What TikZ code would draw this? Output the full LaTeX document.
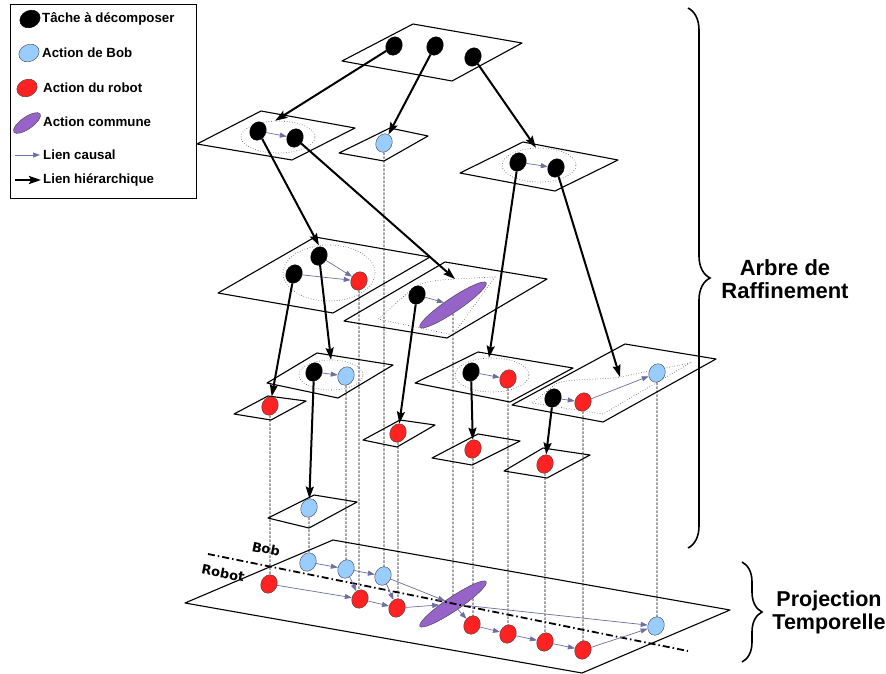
\documentclass[tikz,border=0pt]{standalone}
\usepackage{fontspec}
\setmainfont{Liberation Sans}
\newfontfamily\dejavu{DejaVu Sans}
\usetikzlibrary{shapes.geometric,arrows.meta,decorations.pathreplacing}
\definecolor{bobblue}{RGB}{153,204,255}
\definecolor{robotred}{RGB}{255,34,34}
\definecolor{jointpurple}{RGB}{150,100,200}
\definecolor{causalgray}{RGB}{110,110,160}
\pgfdeclarelayer{planeLayer}
\pgfdeclarelayer{projLayer}
\pgfsetlayers{planeLayer,projLayer,main}
\tikzstyle{taskNode}=[ellipse, draw=black, fill=black, thin, minimum width=16pt, minimum height=19pt, inner sep=0pt, rotate=-25]
\tikzstyle{bobNode}=[taskNode, fill=bobblue, draw=black!75]
\tikzstyle{robotNode}=[taskNode, fill=robotred, draw=black!75]
\tikzstyle{jointNode}=[ellipse, draw=black!75, thin, fill=jointpurple, minimum width=80pt, minimum height=14pt, inner sep=0pt, rotate=34]
\tikzstyle{legendSym}=[ellipse, draw=black!75, thin, minimum width=21pt, minimum height=17pt, inner sep=0pt, rotate=25]
\tikzstyle{legendText}=[anchor=west, inner sep=0pt, font=\fontsize{13.3}{15}\selectfont\bfseries]
\tikzstyle{taskPlane}=[draw, line width=1.1pt, fill=white, line join=round]
\tikzstyle{groupRing}=[ellipse, draw=black!70, dotted, line width=0.6pt, inner sep=0pt]
\tikzstyle{groupShape}=[draw=black!70, dotted, line width=0.6pt]
\tikzstyle{causalLink}=[-{Triangle[length=7pt,width=5pt]}, causalgray, line width=0.7pt]
\tikzstyle{hierLink}=[-{Stealth[length=12pt,width=8pt,inset=2pt]}, line width=2pt]
\tikzstyle{projLine}=[dash pattern=on 2.5pt off 1.5pt, line width=0.8pt]

\begin{document}
\begin{tikzpicture}[x=1pt,y=-1pt]
	\useasboundingbox (0,0) rectangle (886,673);

	\begin{pgfonlayer}{planeLayer}
	\draw[taskPlane] (342,61) -- (413,24) -- (522,43) -- (452,81) -- cycle;
	\draw[taskPlane] (197,144) -- (261,111) -- (355,128) -- (292,160) -- cycle;
	\draw[taskPlane] (339,153) -- (390,128) -- (428,136) -- (384,161) -- cycle;
	\draw[taskPlane] (460,173) -- (523,142) -- (618,160) -- (555,191) -- cycle;
	\draw[taskPlane] (218,293) -- (315,237) -- (430,257) -- (333,313) -- cycle;
	\draw[taskPlane] (344,321) -- (445,262) -- (547,279) -- (447,338) -- cycle;
	\draw[taskPlane] (415,383) -- (478,352) -- (573,368) -- (510,402) -- cycle;
	\draw[taskPlane] (512,405) -- (625,344) -- (716,359) -- (603,422) -- cycle;
	\draw[taskPlane] (267,383) -- (317,353) -- (393,365) -- (338,398) -- cycle;
	\draw[taskPlane] (234,414) -- (268,396) -- (306,401) -- (271,420) -- cycle;
	\draw[taskPlane] (363,440) -- (400,420) -- (435,425) -- (397,447) -- cycle;
	\draw[taskPlane] (432,458) -- (478,434) -- (520,441) -- (472,465) -- cycle;
	\draw[taskPlane] (504,471) -- (543,448) -- (590,455) -- (547,478) -- cycle;
	\draw[taskPlane] (268,518) -- (314,495) -- (357,502) -- (309,528) -- cycle;
	\draw[taskPlane] (185,603) -- (333,540) -- (730,610) -- (582,673) -- cycle;
	\end{pgfonlayer}

	\draw[thin] (10,4) rectangle (196,198);
	\node[legendSym, fill=black, draw=black] (legTask) at (30,19) {};
	\node[legendSym, fill=bobblue] (legBob) at (29,53) {};
	\node[legendSym, fill=robotred] (legRobot) at (27,88) {};
	\node[legendSym, fill=jointpurple, minimum width=32pt, minimum height=12pt, rotate=10] (legJoint) at (27,123) {};
	\node[legendText] (legTaskTxt) at (42,19) {Tâche à décomposer};
	\node[legendText] (legBobTxt) at (42,53) {Action de Bob};
	\node[legendText] (legRobotTxt) at (43,88) {Action du robot};
	\node[legendText] (legJointTxt) at (43,122) {Action commune};
	\node[legendText] (legCausalTxt) at (43,155) {Lien causal};
	\node[legendText] (legHierTxt) at (43,180) {Lien hiérarchique};
	\coordinate (legCausalA) at (15,155);
	\coordinate (legCausalB) at (40,155);
	\coordinate (legHierA) at (15,180);
	\coordinate (legHierB) at (41,180);
	\draw[causalLink] (legCausalA) -- (legCausalB);
	\draw[hierLink] (legHierA) -- (legHierB);

	\node[groupRing, minimum width=74pt, minimum height=32pt] (g1) at (278,137) {};
	\node[groupRing, minimum width=74pt, minimum height=34pt] (g2) at (539,165) {};
	\node[groupRing, minimum width=92pt, minimum height=56pt] (g3) at (329,273) {};
	\node[groupRing, minimum width=74pt, minimum height=34pt] (g4) at (492,375) {};
	\node[groupRing, minimum width=64pt, minimum height=30pt] (g5) at (331,375) {};
	\draw[groupShape] (378,319) -- (411,290) .. controls (420,281) and (440,280) .. (455,279) -- (495,277) -- (453,335) -- cycle;
	\draw[groupShape] (532,403) -- (557,383) .. controls (575,378) and (605,380) .. (620,377) -- (690,363) -- (603,414) -- cycle;
	\coordinate (s1top) at (455,279);
	\coordinate (s2top) at (620,377);

	\node[taskNode] (t1) at (394,46) {};
	\node[taskNode] (t2) at (435,46) {};
	\node[taskNode] (t3) at (473,57) {};

	\node[taskNode] (l1a) at (258,131) {};
	\node[taskNode] (l1b) at (295,138) {};
	\node[bobNode] (l1bob) at (384,143) {};
	\node[taskNode] (l1c) at (518,162) {};
	\node[taskNode] (l1d) at (556,168) {};

	\node[taskNode] (l2a) at (319,256) {};
	\node[taskNode] (l2b) at (294,274) {};
	\node[robotNode] (l2r) at (359,281) {};
	\node[taskNode] (l2c) at (417,295) {};
	\node[jointNode] (l2p) at (453,305) {};
	\node[taskNode] (l2d) at (471,372) {};
	\node[robotNode] (l2e) at (508,379) {};
	\node[taskNode] (l2f) at (553,398) {};
	\node[robotNode] (l2g) at (583,402) {};
	\node[bobNode] (l2h) at (657,373) {};

	\node[taskNode] (l3a) at (314,372) {};
	\node[bobNode] (l3bob) at (346,376) {};
	\node[robotNode] (l3r) at (270,406) {};
	\node[robotNode] (l3c) at (398,433) {};
	\node[robotNode] (l3d) at (473,449) {};
	\node[robotNode] (l3e) at (545,464) {};
	\node[bobNode] (l4bob) at (309,508) {};

	\node[bobNode] (pb1) at (308,562) {};
	\node[bobNode] (pb2) at (346,569) {};
	\node[bobNode] (pb3) at (383,576) {};
	\node[bobNode] (pbend) at (656,626) {};
	\node[robotNode] (pr1) at (269,584) {};
	\node[robotNode] (pr2) at (360,599) {};
	\node[robotNode] (pr3) at (397,608) {};
	\node[jointNode] (pp) at (453,604) {};
	\node[robotNode] (pr4) at (472,625) {};
	\node[robotNode] (pr5) at (508,634) {};
	\node[robotNode] (pr6) at (545,642) {};
	\node[robotNode] (pr7) at (583,650) {};

	\begin{pgfonlayer}{projLayer}
	\draw[projLine] (l1bob) -- (l1bob |- pb3);
	\draw[projLine] (l3r) -- (l3r |- pr1);
	\draw[projLine] (l4bob) -- (l4bob |- pb1);
	\draw[projLine] (l3bob) -- (l3bob |- pb2);
	\draw[projLine] (l2r) -- (l2r |- pr2);
	\draw[projLine] (l3c) -- (l3c |- pr3);
	\draw[projLine] (l2p) -- (l2p |- pp);
	\draw[projLine] (l3d) -- (l3d |- pr4);
	\draw[projLine] (l2e) -- (l2e |- pr5);
	\draw[projLine] (l3e) -- (l3e |- pr6);
	\draw[projLine] (l2g) -- (l2g |- pr7);
	\draw[projLine] (l2h) -- (l2h |- pbend);
	\end{pgfonlayer}

	\coordinate (sepStart) at (208,554);
	\coordinate (sepEnd) at (688,651);
	\draw[line width=1.8pt, dash pattern=on 7pt off 3pt on 1.5pt off 3pt] (sepStart) -- (sepEnd);
	\node[rotate=-11, font=\dejavu\fontsize{13}{15}\selectfont\bfseries] (bobLbl) at (266,549) {Bob};
	\node[rotate=-11, font=\dejavu\fontsize{13}{15}\selectfont\bfseries] (robotLbl) at (223,573) {Robot};

	\draw[causalLink] (l1a) -- (l1b);
	\draw[causalLink] (l1c) -- (l1d);
	\draw[causalLink] (l2a) -- (l2r);
	\draw[causalLink] (l2b) -- (l2r);
	\draw[causalLink] (l2c) -- (l2p);
	\draw[causalLink] (l2d) -- (l2e);
	\draw[causalLink] (l2f) -- (l2g);
	\draw[causalLink] (l2g) -- (l2h);
	\draw[causalLink] (l3a) -- (l3bob);

	\draw[causalLink] (pb1) -- (pb2);
	\draw[causalLink] (pb2) -- (pb3);
	\draw[causalLink] (pb3) -- (pp);
	\draw[causalLink] (pp) -- (pbend);
	\draw[causalLink] (pb2) -- (pr2);
	\draw[causalLink] (pb3) -- (pr3);
	\draw[causalLink] (pr1) -- (pr2);
	\draw[causalLink] (pr2) -- (pr3);
	\draw[causalLink] (pr3) -- (pp);
	\draw[causalLink] (pp) -- (pr4);
	\draw[causalLink] (pr4) -- (pr5);
	\draw[causalLink] (pr5) -- (pr6);
	\draw[causalLink] (pr6) -- (pr7);
	\draw[causalLink] (pr7) -- (pbend);

	\draw[hierLink] (t1) -- (g1.100);
	\draw[hierLink] (t2) -- (l1bob);
	\draw[hierLink] (t3) -- (g2.100);
	\draw[hierLink] (l1a) -- (g3.110);
	\draw[hierLink] (l1b) -- (s1top);
	\draw[hierLink] (l1c) -- (g4.100);
	\draw[hierLink] (l1d) -- (s2top);
	\draw[hierLink] (l2a) -- (g5.north);
	\draw[hierLink] (l2b) -- (l3r);
	\draw[hierLink] (l2c) -- (l3c);
	\draw[hierLink] (l2d) -- (l3d);
	\draw[hierLink] (l2f) -- (l3e);
	\draw[hierLink] (l3a) -- (l4bob);

	\draw[decorate, decoration={brace, amplitude=22pt}, line width=1.6pt] (688,8) -- (688,548);
	\draw[decorate, decoration={brace, amplitude=20pt}, line width=1.6pt] (742,562) -- (742,662);
	\node[align=center, font=\fontsize{22}{23}\selectfont\bfseries] (refineLbl) at (785,279) {Arbre de\\Raffinement};
	\node[align=center, font=\fontsize{21.5}{23}\selectfont\bfseries] (projLbl) at (829,612) {Projection\\Temporelle};
\end{tikzpicture}
\end{document}
